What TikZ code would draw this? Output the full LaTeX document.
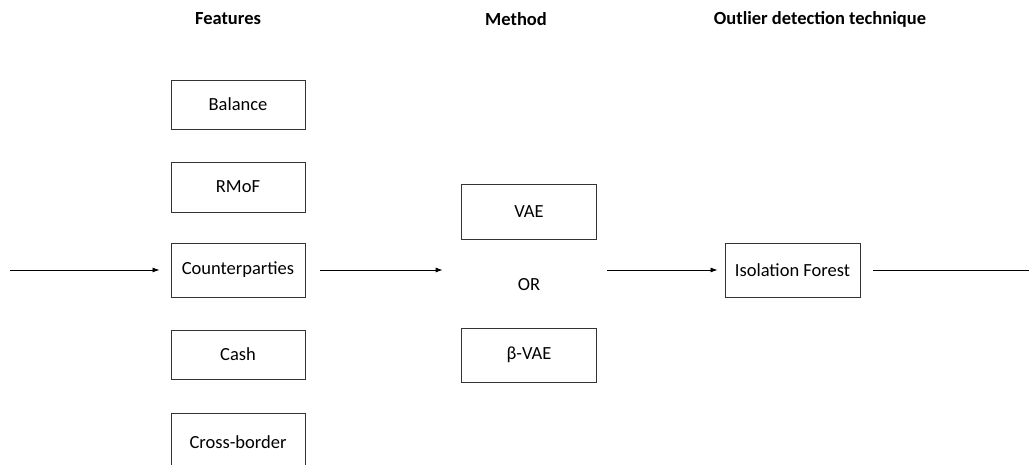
\documentclass[tikz,border=0pt]{standalone}
\usepackage{fontspec}
\setmainfont{Carlito}
\usetikzlibrary{arrows.meta}
\begin{document}
\begin{tikzpicture}[x=1pt,y=-1pt,
  every node/.style={font=\fontsize{18.5}{22}\selectfont, inner sep=0pt},
  box/.style={draw=black!80, line width=0.9pt, minimum width=134pt},
  hdr/.style={font=\fontsize{18.5}{22}\selectfont\bfseries},
  arr/.style={line width=0.8pt, -{Latex[length=7pt,width=5pt]}},
  ln/.style={line width=0.8pt}]
\clip (0,0) rectangle (1029,465);
\fill[white] (0,0) rectangle (1029,465);
% headers
\node[hdr] (h1) at (228,19) {Features};
\node[hdr] (h2) at (516,19) {Method};
\node[hdr] (h3) at (820,19) {Outlier detection technique};
% feature boxes
\node[box, minimum height=49pt] (bal) at (238,104.5) {Balance};
\node[box, minimum height=50pt] (rmof) at (238,187) {RMoF};
\node[box, minimum height=54pt] (cp) at (238,270) {Counterparties};
\node[box, minimum height=49pt] (cash) at (238,354.5) {Cash};
\node[box, minimum height=58pt] (cb) at (238,442) {Cross-border};
% method
\node[box, minimum width=135pt, minimum height=55pt] (vae) at (529,211.5) {VAE};
\node (or) at (529,285) {OR};
\node[box, minimum width=135pt, minimum height=54pt] (bvae) at (529,355) {β-VAE};
% outlier technique
\node[box, minimum width=135pt, minimum height=54pt] (if) at (792.5,270) {Isolation Forest};
% connectors
\coordinate (src) at (10,270);
\coordinate (dst) at (1029,270);
\draw[arr, shorten >=11pt] (src) -- (cp.west);
\draw[arr, shorten <=15pt, shorten >=75pt] (cp.east) -- (or.west |- cp.east);
\draw[arr, shorten <=67pt, shorten >=7pt] (or.east |- if.west) -- (if.west);
\draw[ln, shorten <=13pt] (if.east) -- (dst);
\end{tikzpicture}
\end{document}
